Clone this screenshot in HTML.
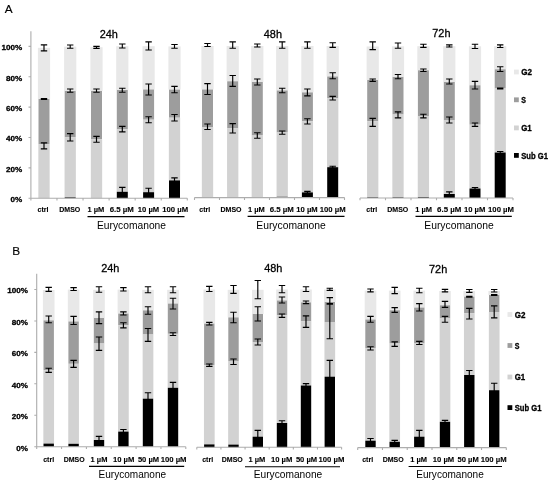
<!DOCTYPE html>
<html lang="en">
<head>
<meta charset="utf-8">
<title>Cell cycle distribution – Eurycomanone</title>
<style>
html,body{margin:0;padding:0;background:#fff;}
body{width:550px;height:484px;overflow:hidden;}
svg{display:block;font-family:"Liberation Sans",sans-serif;fill:#000;}
.ax{fill:none;stroke:#adadad;stroke-width:1.1;}
.eb{fill:none;stroke:#000;stroke-width:1.15;}
.ul{fill:none;stroke:#000;stroke-width:1.1;}
.yl{font-size:8.1px;font-weight:bold;text-anchor:end;stroke:#000;stroke-width:.3;}
.xl{font-size:7.3px;font-weight:bold;stroke:#000;stroke-width:.1;}
.ti{font-size:11.5px;stroke:#000;stroke-width:.3;}
.eu{font-size:10.5px;}
.lg{font-size:8.3px;font-weight:bold;stroke:#000;stroke-width:.3;}
.pn{font-size:11.8px;stroke:#000;stroke-width:.15;}
</style>
</head>
<body>
<svg width="550" height="484" viewBox="0 0 550 484">
<rect width="550" height="484" fill="#fff"/>
<g class="chart" id="A24">
<rect x="37.9" y="47.8" width="12.2" height="51.2" fill="#e8e8e8"/>
<rect x="38.5" y="99" width="11" height="45.4" fill="#9d9d9d"/>
<rect x="38.35" y="144.4" width="11.3" height="53.8" fill="#d2d2d2"/>
<rect x="64.1" y="46.6" width="12.2" height="44.4" fill="#e8e8e8"/>
<rect x="64.7" y="91" width="11" height="46.3" fill="#9d9d9d"/>
<rect x="64.55" y="137.3" width="11.3" height="60.1" fill="#d2d2d2"/>
<rect x="64.7" y="197.4" width="11" height="0.8" fill="#000"/>
<rect x="90.4" y="47.2" width="12.2" height="43.8" fill="#e8e8e8"/>
<rect x="91" y="91" width="11" height="48.3" fill="#9d9d9d"/>
<rect x="90.85" y="139.3" width="11.3" height="58.9" fill="#d2d2d2"/>
<rect x="116.2" y="46.2" width="12.2" height="43.8" fill="#e8e8e8"/>
<rect x="116.8" y="90" width="11" height="39.1" fill="#9d9d9d"/>
<rect x="116.65" y="129.1" width="11.3" height="62.7" fill="#d2d2d2"/>
<rect x="116.8" y="191.8" width="11" height="6.4" fill="#000"/>
<rect x="142.5" y="46.2" width="12.2" height="43.3" fill="#e8e8e8"/>
<rect x="143.1" y="89.5" width="11" height="30.2" fill="#9d9d9d"/>
<rect x="142.95" y="119.7" width="11.3" height="72.5" fill="#d2d2d2"/>
<rect x="143.1" y="192.2" width="11" height="6" fill="#000"/>
<rect x="168.4" y="46.4" width="12.2" height="43.2" fill="#e8e8e8"/>
<rect x="169" y="89.6" width="11" height="28.1" fill="#9d9d9d"/>
<rect x="168.85" y="117.7" width="11.3" height="62.7" fill="#d2d2d2"/>
<rect x="169" y="180.4" width="11" height="17.8" fill="#000"/>
<text class="yl" x="22.1" y="202">0%</text>
<text class="yl" x="22.1" y="171.64">20%</text>
<text class="yl" x="22.1" y="141.28">40%</text>
<text class="yl" x="22.1" y="110.92">60%</text>
<text class="yl" x="22.1" y="80.56">80%</text>
<text class="yl" x="22.1" y="50.2">100%</text>
<path d="M30.9 198.2H187.3M30.9 198.2v2.3M56.97 198.2v2.3M83.03 198.2v2.3M109.1 198.2v2.3M135.17 198.2v2.3M161.23 198.2v2.3M187.3 198.2v2.3M30.9 198.7V31.22M30.9 198.2h-2.4M30.9 167.84h-2.4M30.9 137.48h-2.4M30.9 107.12h-2.4M30.9 76.76h-2.4M30.9 46.4h-2.4" class="ax"/>
<path d="M40.8 44.8h6.4M44 44.8V50.8M40.8 50.8h6.4M40.8 98.6h6.4M44 98.6V99.4M40.8 99.4h6.4M40.8 142.9h6.4M44 142.9V148.8M40.8 148.8h6.4M67 45h6.4M70.2 45V48.2M67 48.2h6.4M67 89h6.4M70.2 89V92.2M67 92.2h6.4M67 133.6h6.4M70.2 133.6V141M67 141h6.4M93.3 46.3h6.4M96.5 46.3V48.3M93.3 48.3h6.4M93.3 89h6.4M96.5 89V92.2M93.3 92.2h6.4M93.3 136.4h6.4M96.5 136.4V142.2M93.3 142.2h6.4M119.1 44h6.4M122.3 44V48M119.1 48h6.4M119.1 88.2h6.4M122.3 88.2V92.2M119.1 92.2h6.4M119.1 126.4h6.4M122.3 126.4V131.8M119.1 131.8h6.4M119.1 187.3h6.4M122.3 187.3V194M119.1 194h6.4M145.4 41.8h6.4M148.6 41.8V50M145.4 50h6.4M145.4 84h6.4M148.6 84V95M145.4 95h6.4M145.4 116.7h6.4M148.6 116.7V122.7M145.4 122.7h6.4M145.4 188.2h6.4M148.6 188.2V194M145.4 194h6.4M171.3 44.5h6.4M174.5 44.5V48.2M171.3 48.2h6.4M171.3 86.4h6.4M174.5 86.4V92.7M171.3 92.7h6.4M171.3 114.5h6.4M174.5 114.5V121M171.3 121h6.4M171.3 177.8h6.4M174.5 177.8V183M171.3 183h6.4" class="eb"/>
<text class="ti" x="99.7" y="37.5" textLength="18.2" lengthAdjust="spacingAndGlyphs">24h</text>
<text class="xl" x="37.5" y="211.8" textLength="11" lengthAdjust="spacingAndGlyphs">ctrl</text>
<text class="xl" x="59.3" y="211.8" textLength="21" lengthAdjust="spacingAndGlyphs">DMSO</text>
<text class="xl" x="87.4" y="211.8" textLength="16.8" lengthAdjust="spacingAndGlyphs">1 µM</text>
<text class="xl" x="109.7" y="211.8" textLength="24.2" lengthAdjust="spacingAndGlyphs">6.5 µM</text>
<text class="xl" x="137.8" y="211.8" textLength="21.4" lengthAdjust="spacingAndGlyphs">10 µM</text>
<text class="xl" x="162.25" y="211.8" textLength="25.9" lengthAdjust="spacingAndGlyphs">100 µM</text>
<path d="M87.5 216.6H184.5" class="ul"/>
<text class="eu" x="97" y="228.8" textLength="69" lengthAdjust="spacingAndGlyphs">Eurycomanone</text>
</g>
<g class="chart" id="A48">
<rect x="201.4" y="46" width="12.2" height="43.5" fill="#e8e8e8"/>
<rect x="202" y="89.5" width="11" height="37.5" fill="#9d9d9d"/>
<rect x="201.85" y="127" width="11.3" height="70.2" fill="#d2d2d2"/>
<rect x="202" y="197.2" width="11" height="0.4" fill="#000"/>
<rect x="226.6" y="46" width="12.2" height="35.3" fill="#e8e8e8"/>
<rect x="227.2" y="81.3" width="11" height="47.1" fill="#9d9d9d"/>
<rect x="227.05" y="128.4" width="11.3" height="68.8" fill="#d2d2d2"/>
<rect x="227.2" y="197.2" width="11" height="0.4" fill="#000"/>
<rect x="251.2" y="46" width="12.2" height="36" fill="#e8e8e8"/>
<rect x="251.8" y="82" width="11" height="53.5" fill="#9d9d9d"/>
<rect x="251.65" y="135.5" width="11.3" height="61.7" fill="#d2d2d2"/>
<rect x="251.8" y="197.2" width="11" height="0.4" fill="#000"/>
<rect x="276.1" y="46" width="12.2" height="44.5" fill="#e8e8e8"/>
<rect x="276.7" y="90.5" width="11" height="42" fill="#9d9d9d"/>
<rect x="276.55" y="132.5" width="11.3" height="64.3" fill="#d2d2d2"/>
<rect x="276.7" y="196.8" width="11" height="0.8" fill="#000"/>
<rect x="301.3" y="46" width="12.2" height="46.4" fill="#e8e8e8"/>
<rect x="301.9" y="92.4" width="11" height="29" fill="#9d9d9d"/>
<rect x="301.75" y="121.4" width="11.3" height="71" fill="#d2d2d2"/>
<rect x="301.9" y="192.4" width="11" height="5.2" fill="#000"/>
<rect x="326.6" y="46" width="12.2" height="30.5" fill="#e8e8e8"/>
<rect x="327.2" y="76.5" width="11" height="21.7" fill="#9d9d9d"/>
<rect x="327.05" y="98.2" width="11.3" height="69" fill="#d2d2d2"/>
<rect x="327.2" y="167.2" width="11" height="30.4" fill="#000"/>
<path d="M194.5 197.6H344.5M194.5 197.6v2.3M219.5 197.6v2.3M244.5 197.6v2.3M269.5 197.6v2.3M294.5 197.6v2.3M319.5 197.6v2.3M344.5 197.6v2.3" class="ax"/>
<path d="M204.3 43.5h6.4M207.5 43.5V46.5M204.3 46.5h6.4M204.3 83.6h6.4M207.5 83.6V94.5M204.3 94.5h6.4M204.3 124h6.4M207.5 124V129.5M204.3 129.5h6.4M229.5 41.8h6.4M232.7 41.8V48.2M229.5 48.2h6.4M229.5 75.5h6.4M232.7 75.5V86.4M229.5 86.4h6.4M229.5 123.6h6.4M232.7 123.6V133M229.5 133h6.4M254.1 44h6.4M257.3 44V47M254.1 47h6.4M254.1 79h6.4M257.3 79V85M254.1 85h6.4M254.1 132.7h6.4M257.3 132.7V138.2M254.1 138.2h6.4M279 41.8h6.4M282.2 41.8V48.2M279 48.2h6.4M279 88.2h6.4M282.2 88.2V92.7M279 92.7h6.4M279 131h6.4M282.2 131V134.2M279 134.2h6.4M304.2 41.8h6.4M307.4 41.8V48.2M304.2 48.2h6.4M304.2 89h6.4M307.4 89V95.8M304.2 95.8h6.4M304.2 118.7h6.4M307.4 118.7V124M304.2 124h6.4M304.2 191.4h6.4M307.4 191.4V193.4M304.2 193.4h6.4M329.5 42.7h6.4M332.7 42.7V47.3M329.5 47.3h6.4M329.5 72.7h6.4M332.7 72.7V78.7M329.5 78.7h6.4M329.5 96.4h6.4M332.7 96.4V100M329.5 100h6.4M329.5 166.2h6.4M332.7 166.2V168.2M329.5 168.2h6.4" class="eb"/>
<text class="ti" x="263.8" y="37.5" textLength="18.2" lengthAdjust="spacingAndGlyphs">48h</text>
<text class="xl" x="199.3" y="211.8" textLength="11" lengthAdjust="spacingAndGlyphs">ctrl</text>
<text class="xl" x="220.5" y="211.8" textLength="21" lengthAdjust="spacingAndGlyphs">DMSO</text>
<text class="xl" x="248" y="211.8" textLength="16.8" lengthAdjust="spacingAndGlyphs">1 µM</text>
<text class="xl" x="269.7" y="211.8" textLength="24.2" lengthAdjust="spacingAndGlyphs">6.5 µM</text>
<text class="xl" x="296.3" y="211.8" textLength="21.4" lengthAdjust="spacingAndGlyphs">10 µM</text>
<text class="xl" x="319.75" y="211.8" textLength="25.9" lengthAdjust="spacingAndGlyphs">100 µM</text>
<path d="M247.6 216.4H344.5" class="ul"/>
<text class="eu" x="256.25" y="228.5" textLength="69.5" lengthAdjust="spacingAndGlyphs">Eurycomanone</text>
</g>
<g class="chart" id="A72">
<rect x="366.6" y="46.5" width="12.2" height="33.5" fill="#e8e8e8"/>
<rect x="367.2" y="80" width="11" height="41.2" fill="#9d9d9d"/>
<rect x="367.05" y="121.2" width="11.3" height="76.2" fill="#d2d2d2"/>
<rect x="367.2" y="197.4" width="11" height="0.6" fill="#000"/>
<rect x="391.9" y="46.3" width="12.2" height="30.7" fill="#e8e8e8"/>
<rect x="392.5" y="77" width="11" height="37.5" fill="#9d9d9d"/>
<rect x="392.35" y="114.5" width="11.3" height="82.9" fill="#d2d2d2"/>
<rect x="392.5" y="197.4" width="11" height="0.6" fill="#000"/>
<rect x="417.3" y="46.2" width="12.2" height="24.1" fill="#e8e8e8"/>
<rect x="417.9" y="70.3" width="11" height="45.7" fill="#9d9d9d"/>
<rect x="417.75" y="116" width="11.3" height="81.2" fill="#d2d2d2"/>
<rect x="417.9" y="197.2" width="11" height="0.8" fill="#000"/>
<rect x="443.2" y="46.2" width="12.2" height="35.8" fill="#e8e8e8"/>
<rect x="443.8" y="82" width="11" height="38" fill="#9d9d9d"/>
<rect x="443.65" y="120" width="11.3" height="74" fill="#d2d2d2"/>
<rect x="443.8" y="194" width="11" height="4" fill="#000"/>
<rect x="468.9" y="46.3" width="12.2" height="39" fill="#e8e8e8"/>
<rect x="469.5" y="85.3" width="11" height="39.4" fill="#9d9d9d"/>
<rect x="469.35" y="124.7" width="11.3" height="63.8" fill="#d2d2d2"/>
<rect x="469.5" y="188.5" width="11" height="9.5" fill="#000"/>
<rect x="494.1" y="46.2" width="12.2" height="23.1" fill="#e8e8e8"/>
<rect x="494.7" y="69.3" width="11" height="19.2" fill="#9d9d9d"/>
<rect x="494.55" y="88.5" width="11.3" height="64" fill="#d2d2d2"/>
<rect x="494.7" y="152.5" width="11" height="45.5" fill="#000"/>
<path d="M360 198H513M360 198v2.3M385.5 198v2.3M411 198v2.3M436.5 198v2.3M462 198v2.3M487.5 198v2.3M513 198v2.3" class="ax"/>
<path d="M369.5 41.8h6.4M372.7 41.8V49.6M369.5 49.6h6.4M369.5 79h6.4M372.7 79V81.3M369.5 81.3h6.4M369.5 118.4h6.4M372.7 118.4V126.4M369.5 126.4h6.4M394.8 43h6.4M398 43V48.2M394.8 48.2h6.4M394.8 74.5h6.4M398 74.5V78.7M394.8 78.7h6.4M394.8 111.8h6.4M398 111.8V117.8M394.8 117.8h6.4M420.2 44.2h6.4M423.4 44.2V47.3M420.2 47.3h6.4M420.2 69h6.4M423.4 69V71.5M420.2 71.5h6.4M420.2 114.2h6.4M423.4 114.2V117.8M420.2 117.8h6.4M446.1 44.9h6.4M449.3 44.9V47M446.1 47h6.4M446.1 79h6.4M449.3 79V84M446.1 84h6.4M446.1 117h6.4M449.3 117V123M446.1 123h6.4M446.1 191.8h6.4M449.3 191.8V196M446.1 196h6.4M471.8 44.2h6.4M475 44.2V48.5M471.8 48.5h6.4M471.8 81.3h6.4M475 81.3V89M471.8 89h6.4M471.8 123h6.4M475 123V126.4M471.8 126.4h6.4M471.8 187.5h6.4M475 187.5V189.5M471.8 189.5h6.4M497 44.8h6.4M500.2 44.8V47.5M497 47.5h6.4M497 66.7h6.4M500.2 66.7V71.5M497 71.5h6.4M497 88h6.4M500.2 88V89M497 89h6.4M497 151.5h6.4M500.2 151.5V153.5M497 153.5h6.4" class="eb"/>
<text class="ti" x="432.3" y="37.3" textLength="18.2" lengthAdjust="spacingAndGlyphs">72h</text>
<text class="xl" x="366.3" y="211.8" textLength="11" lengthAdjust="spacingAndGlyphs">ctrl</text>
<text class="xl" x="387.3" y="211.8" textLength="21" lengthAdjust="spacingAndGlyphs">DMSO</text>
<text class="xl" x="415.2" y="211.8" textLength="16.8" lengthAdjust="spacingAndGlyphs">1 µM</text>
<text class="xl" x="437.1" y="211.8" textLength="24.2" lengthAdjust="spacingAndGlyphs">6.5 µM</text>
<text class="xl" x="464" y="211.8" textLength="21.4" lengthAdjust="spacingAndGlyphs">10 µM</text>
<text class="xl" x="488.05" y="211.8" textLength="25.9" lengthAdjust="spacingAndGlyphs">100 µM</text>
<path d="M415.5 216.4H511.8" class="ul"/>
<text class="eu" x="424.25" y="228.5" textLength="69.5" lengthAdjust="spacingAndGlyphs">Eurycomanone</text>
</g>
<g class="chart" id="B24">
<rect x="42.9" y="290" width="11.6" height="30.4" fill="#e8e8e8"/>
<rect x="43.5" y="320.4" width="10.4" height="49.9" fill="#9d9d9d"/>
<rect x="43.35" y="370.3" width="10.7" height="73.3" fill="#d2d2d2"/>
<rect x="43.5" y="443.6" width="10.4" height="3.1" fill="#000"/>
<rect x="67.8" y="289.6" width="11.6" height="31.9" fill="#e8e8e8"/>
<rect x="68.4" y="321.5" width="10.4" height="42.3" fill="#9d9d9d"/>
<rect x="68.25" y="363.8" width="10.7" height="80" fill="#d2d2d2"/>
<rect x="68.4" y="443.8" width="10.4" height="2.9" fill="#000"/>
<rect x="93.2" y="289.8" width="11.6" height="28.2" fill="#e8e8e8"/>
<rect x="93.8" y="318" width="10.4" height="25.5" fill="#9d9d9d"/>
<rect x="93.65" y="343.5" width="10.7" height="96.5" fill="#d2d2d2"/>
<rect x="93.8" y="440" width="10.4" height="6.7" fill="#000"/>
<rect x="117.6" y="289.6" width="11.6" height="24" fill="#e8e8e8"/>
<rect x="118.2" y="313.6" width="10.4" height="11.8" fill="#9d9d9d"/>
<rect x="118.05" y="325.4" width="10.7" height="106.2" fill="#d2d2d2"/>
<rect x="118.2" y="431.6" width="10.4" height="15.1" fill="#000"/>
<rect x="142.2" y="289.8" width="11.6" height="20.6" fill="#e8e8e8"/>
<rect x="142.8" y="310.4" width="10.4" height="24.1" fill="#9d9d9d"/>
<rect x="142.65" y="334.5" width="10.7" height="64.2" fill="#d2d2d2"/>
<rect x="142.8" y="398.7" width="10.4" height="48" fill="#000"/>
<rect x="167.2" y="289.8" width="11.6" height="13.8" fill="#e8e8e8"/>
<rect x="167.8" y="303.6" width="10.4" height="30.2" fill="#9d9d9d"/>
<rect x="167.65" y="333.8" width="10.7" height="54" fill="#d2d2d2"/>
<rect x="167.8" y="387.8" width="10.4" height="58.9" fill="#000"/>
<text class="yl" x="27.9" y="450.5">0%</text>
<text class="yl" x="27.9" y="419.06">20%</text>
<text class="yl" x="27.9" y="387.62">40%</text>
<text class="yl" x="27.9" y="356.18">60%</text>
<text class="yl" x="27.9" y="324.74">80%</text>
<text class="yl" x="27.9" y="293.3">100%</text>
<path d="M36.7 446.7H185.8M36.7 446.7v2.3M61.55 446.7v2.3M86.4 446.7v2.3M111.25 446.7v2.3M136.1 446.7v2.3M160.95 446.7v2.3M185.8 446.7v2.3M36.7 447.2V273.78M36.7 446.7h-2.4M36.7 415.26h-2.4M36.7 383.82h-2.4M36.7 352.38h-2.4M36.7 320.94h-2.4M36.7 289.5h-2.4" class="ax"/>
<path d="M45.5 287.3h6.4M48.7 287.3V291.3M45.5 291.3h6.4M45.5 316h6.4M48.7 316V322.7M45.5 322.7h6.4M45.5 368.2h6.4M48.7 368.2V372.4M45.5 372.4h6.4M70.4 287.6h6.4M73.6 287.6V290.5M70.4 290.5h6.4M70.4 316.4h6.4M73.6 316.4V324.5M70.4 324.5h6.4M70.4 360.4h6.4M73.6 360.4V367.3M70.4 367.3h6.4M95.8 286.7h6.4M99 286.7V292.2M95.8 292.2h6.4M95.8 311.8h6.4M99 311.8V323.6M95.8 323.6h6.4M95.8 337h6.4M99 337V350.4M95.8 350.4h6.4M95.8 436.4h6.4M99 436.4V442M95.8 442h6.4M120.2 287.6h6.4M123.4 287.6V291M120.2 291h6.4M120.2 311.8h6.4M123.4 311.8V315M120.2 315h6.4M120.2 322.7h6.4M123.4 322.7V327.8M120.2 327.8h6.4M120.2 429.5h6.4M123.4 429.5V433M120.2 433h6.4M144.8 286.7h6.4M148 286.7V292.7M144.8 292.7h6.4M144.8 306.7h6.4M148 306.7V314.2M144.8 314.2h6.4M144.8 328.5h6.4M148 328.5V341.3M144.8 341.3h6.4M144.8 392.7h6.4M148 392.7V402M144.8 402h6.4M169.8 286.7h6.4M173 286.7V292.7M169.8 292.7h6.4M169.8 298.2h6.4M173 298.2V309M169.8 309h6.4M169.8 332.7h6.4M173 332.7V335.5M169.8 335.5h6.4M169.8 382.4h6.4M173 382.4V392M169.8 392h6.4" class="eb"/>
<text class="ti" x="101.2" y="271.9" textLength="18.2" lengthAdjust="spacingAndGlyphs">24h</text>
<text class="xl" x="43.2" y="461.8" textLength="11" lengthAdjust="spacingAndGlyphs">ctrl</text>
<text class="xl" x="63.7" y="461.8" textLength="21" lengthAdjust="spacingAndGlyphs">DMSO</text>
<text class="xl" x="90.6" y="461.8" textLength="16.8" lengthAdjust="spacingAndGlyphs">1 µM</text>
<text class="xl" x="112.9" y="461.8" textLength="21.4" lengthAdjust="spacingAndGlyphs">10 µM</text>
<text class="xl" x="137.9" y="461.8" textLength="21.2" lengthAdjust="spacingAndGlyphs">50 µM</text>
<text class="xl" x="160.65" y="461.8" textLength="25.9" lengthAdjust="spacingAndGlyphs">100 µM</text>
<path d="M89 466.4H184.2" class="ul"/>
<text class="eu" x="98.55" y="478" textLength="67.5" lengthAdjust="spacingAndGlyphs">Eurycomanone</text>
</g>
<g class="chart" id="B48">
<rect x="203.5" y="289.5" width="11.6" height="34.1" fill="#e8e8e8"/>
<rect x="204.1" y="323.6" width="10.4" height="41.6" fill="#9d9d9d"/>
<rect x="203.95" y="365.2" width="10.7" height="79.2" fill="#d2d2d2"/>
<rect x="204.1" y="444.4" width="10.4" height="2.9" fill="#000"/>
<rect x="227.7" y="289.8" width="11.6" height="27.6" fill="#e8e8e8"/>
<rect x="228.3" y="317.4" width="10.4" height="44.1" fill="#9d9d9d"/>
<rect x="228.15" y="361.5" width="10.7" height="83.1" fill="#d2d2d2"/>
<rect x="228.3" y="444.6" width="10.4" height="2.7" fill="#000"/>
<rect x="252" y="289.8" width="11.6" height="24.2" fill="#e8e8e8"/>
<rect x="252.6" y="314" width="10.4" height="28" fill="#9d9d9d"/>
<rect x="252.45" y="342" width="10.7" height="94.7" fill="#d2d2d2"/>
<rect x="252.6" y="436.7" width="10.4" height="10.6" fill="#000"/>
<rect x="276.2" y="289.5" width="11.6" height="11" fill="#e8e8e8"/>
<rect x="276.8" y="300.5" width="10.4" height="14.8" fill="#9d9d9d"/>
<rect x="276.65" y="315.3" width="10.7" height="107.7" fill="#d2d2d2"/>
<rect x="276.8" y="423" width="10.4" height="24.3" fill="#000"/>
<rect x="300.2" y="289.5" width="11.6" height="12.9" fill="#e8e8e8"/>
<rect x="300.8" y="302.4" width="10.4" height="19" fill="#9d9d9d"/>
<rect x="300.65" y="321.4" width="10.7" height="64.1" fill="#d2d2d2"/>
<rect x="300.8" y="385.5" width="10.4" height="61.8" fill="#000"/>
<rect x="324" y="289.5" width="11.6" height="12.5" fill="#e8e8e8"/>
<rect x="324.6" y="302" width="10.4" height="20" fill="#9d9d9d"/>
<rect x="324.45" y="322" width="10.7" height="54.7" fill="#d2d2d2"/>
<rect x="324.6" y="376.7" width="10.4" height="70.6" fill="#000"/>
<path d="M196.8 447.3H341.6M196.8 447.3v2.3M220.93 447.3v2.3M245.07 447.3v2.3M269.2 447.3v2.3M293.33 447.3v2.3M317.47 447.3v2.3M341.6 447.3v2.3" class="ax"/>
<path d="M206.1 286.4h6.4M209.3 286.4V291.5M206.1 291.5h6.4M206.1 322.4h6.4M209.3 322.4V325M206.1 325h6.4M206.1 364h6.4M209.3 364V366.4M206.1 366.4h6.4M230.3 285.5h6.4M233.5 285.5V293.3M230.3 293.3h6.4M230.3 312.2h6.4M233.5 312.2V322.7M230.3 322.7h6.4M230.3 359h6.4M233.5 359V364.5M230.3 364.5h6.4M254.6 280.5h6.4M257.8 280.5V298.7M254.6 298.7h6.4M254.6 306.7h6.4M257.8 306.7V321M254.6 321h6.4M254.6 339h6.4M257.8 339V345M254.6 345h6.4M254.6 430.4h6.4M257.8 430.4V440M254.6 440h6.4M278.8 285.5h6.4M282 285.5V292.7M278.8 292.7h6.4M278.8 297h6.4M282 297V303M278.8 303h6.4M278.8 314h6.4M282 314V317.3M278.8 317.3h6.4M278.8 420.7h6.4M282 420.7V425M278.8 425h6.4M302.8 286.7h6.4M306 286.7V291.5M302.8 291.5h6.4M302.8 301h6.4M306 301V303.6M302.8 303.6h6.4M302.8 315.8h6.4M306 315.8V327.3M302.8 327.3h6.4M302.8 383.6h6.4M306 383.6V387M302.8 387h6.4M326.6 288.2h6.4M329.8 288.2V290.4M326.6 290.4h6.4M326.6 297.6h6.4M329.8 297.6V304.2M326.6 304.2h6.4M326.6 303.6h6.4M329.8 303.6V338.7M326.6 338.7h6.4M326.6 360.4h6.4M329.8 360.4V390M326.6 390h6.4" class="eb"/>
<text class="ti" x="264.2" y="272.4" textLength="18.2" lengthAdjust="spacingAndGlyphs">48h</text>
<text class="xl" x="202.2" y="461.8" textLength="11" lengthAdjust="spacingAndGlyphs">ctrl</text>
<text class="xl" x="221.8" y="461.8" textLength="21" lengthAdjust="spacingAndGlyphs">DMSO</text>
<text class="xl" x="248.4" y="461.8" textLength="16.8" lengthAdjust="spacingAndGlyphs">1 µM</text>
<text class="xl" x="271" y="461.8" textLength="21.4" lengthAdjust="spacingAndGlyphs">10 µM</text>
<text class="xl" x="295.9" y="461.8" textLength="21.2" lengthAdjust="spacingAndGlyphs">50 µM</text>
<text class="xl" x="318.45" y="461.8" textLength="25.9" lengthAdjust="spacingAndGlyphs">100 µM</text>
<path d="M245 466.7H340" class="ul"/>
<text class="eu" x="253.75" y="478" textLength="68.5" lengthAdjust="spacingAndGlyphs">Eurycomanone</text>
</g>
<g class="chart" id="B72">
<rect x="364.7" y="290.6" width="11.6" height="28.9" fill="#e8e8e8"/>
<rect x="365.3" y="319.5" width="10.4" height="28.9" fill="#9d9d9d"/>
<rect x="365.15" y="348.4" width="10.7" height="92.3" fill="#d2d2d2"/>
<rect x="365.3" y="440.7" width="10.4" height="6.9" fill="#000"/>
<rect x="388.9" y="290.6" width="11.6" height="19.7" fill="#e8e8e8"/>
<rect x="389.5" y="310.3" width="10.4" height="33.2" fill="#9d9d9d"/>
<rect x="389.35" y="343.5" width="10.7" height="98.3" fill="#d2d2d2"/>
<rect x="389.5" y="441.8" width="10.4" height="5.8" fill="#000"/>
<rect x="413.5" y="290.6" width="11.6" height="17" fill="#e8e8e8"/>
<rect x="414.1" y="307.6" width="10.4" height="35.4" fill="#9d9d9d"/>
<rect x="413.95" y="343" width="10.7" height="93.7" fill="#d2d2d2"/>
<rect x="414.1" y="436.7" width="10.4" height="10.9" fill="#000"/>
<rect x="439.2" y="291" width="11.6" height="14.3" fill="#e8e8e8"/>
<rect x="439.8" y="305.3" width="10.4" height="12.7" fill="#9d9d9d"/>
<rect x="439.65" y="318" width="10.7" height="103.8" fill="#d2d2d2"/>
<rect x="439.8" y="421.8" width="10.4" height="25.8" fill="#000"/>
<rect x="463.5" y="291" width="11.6" height="5.7" fill="#e8e8e8"/>
<rect x="464.1" y="296.7" width="10.4" height="16.5" fill="#9d9d9d"/>
<rect x="463.95" y="313.2" width="10.7" height="61.8" fill="#d2d2d2"/>
<rect x="464.1" y="375" width="10.4" height="72.6" fill="#000"/>
<rect x="488.4" y="291" width="11.6" height="4" fill="#e8e8e8"/>
<rect x="489" y="295" width="10.4" height="17" fill="#9d9d9d"/>
<rect x="488.85" y="312" width="10.7" height="78.2" fill="#d2d2d2"/>
<rect x="489" y="390.2" width="10.4" height="57.4" fill="#000"/>
<path d="M357.7 447.6H506.3M357.7 447.6v2.3M382.47 447.6v2.3M407.23 447.6v2.3M432 447.6v2.3M456.77 447.6v2.3M481.53 447.6v2.3M506.3 447.6v2.3" class="ax"/>
<path d="M367.3 289h6.4M370.5 289V291.8M367.3 291.8h6.4M367.3 316.4h6.4M370.5 316.4V322.2M367.3 322.2h6.4M367.3 346.7h6.4M370.5 346.7V350M367.3 350h6.4M367.3 438.5h6.4M370.5 438.5V443M367.3 443h6.4M391.5 287.3h6.4M394.7 287.3V293.6M391.5 293.6h6.4M391.5 307.6h6.4M394.7 307.6V312.4M391.5 312.4h6.4M391.5 341.8h6.4M394.7 341.8V346.4M391.5 346.4h6.4M391.5 440.4h6.4M394.7 440.4V443M391.5 443h6.4M416.1 288.2h6.4M419.3 288.2V292.7M416.1 292.7h6.4M416.1 303.6h6.4M419.3 303.6V311M416.1 311h6.4M416.1 341.3h6.4M419.3 341.3V344.5M416.1 344.5h6.4M416.1 430.4h6.4M419.3 430.4V440M416.1 440h6.4M441.8 289.4h6.4M445 289.4V291.8M441.8 291.8h6.4M441.8 301.4h6.4M445 301.4V307.4M441.8 307.4h6.4M441.8 316.3h6.4M445 316.3V322.2M441.8 322.2h6.4M441.8 420.3h6.4M445 420.3V423M441.8 423h6.4M466.1 289.5h6.4M469.3 289.5V292.3M466.1 292.3h6.4M466.1 296.2h6.4M469.3 296.2V297.2M466.1 297.2h6.4M466.1 308.4h6.4M469.3 308.4V319M466.1 319h6.4M466.1 370.5h6.4M469.3 370.5V379M466.1 379h6.4M491 289.5h6.4M494.2 289.5V292M491 292h6.4M491 294.5h6.4M494.2 294.5V295.5M491 295.5h6.4M491 305.8h6.4M494.2 305.8V317.8M491 317.8h6.4M491 383.2h6.4M494.2 383.2V396M491 396h6.4" class="eb"/>
<text class="ti" x="429" y="272.6" textLength="18.2" lengthAdjust="spacingAndGlyphs">72h</text>
<text class="xl" x="362.2" y="461.8" textLength="11" lengthAdjust="spacingAndGlyphs">ctrl</text>
<text class="xl" x="382.7" y="461.8" textLength="21" lengthAdjust="spacingAndGlyphs">DMSO</text>
<text class="xl" x="410.2" y="461.8" textLength="16.8" lengthAdjust="spacingAndGlyphs">1 µM</text>
<text class="xl" x="432.8" y="461.8" textLength="21.4" lengthAdjust="spacingAndGlyphs">10 µM</text>
<text class="xl" x="457.6" y="461.8" textLength="21.2" lengthAdjust="spacingAndGlyphs">50 µM</text>
<text class="xl" x="480.75" y="461.8" textLength="25.9" lengthAdjust="spacingAndGlyphs">100 µM</text>
<path d="M408.6 466.5H502" class="ul"/>
<text class="eu" x="416.25" y="478" textLength="67.5" lengthAdjust="spacingAndGlyphs">Eurycomanone</text>
</g>
<g id="legA">
<rect x="514" y="69.6" width="4.8" height="4.8" fill="#e8e8e8"/>
<text class="lg" x="521.2" y="75.2" textLength="10.7" lengthAdjust="spacingAndGlyphs">G2</text>
<rect x="514" y="97.4" width="4.8" height="4.8" fill="#9d9d9d"/>
<text class="lg" x="521.2" y="103" textLength="4.7" lengthAdjust="spacingAndGlyphs">S</text>
<rect x="514" y="125.5" width="4.8" height="4.8" fill="#d2d2d2"/>
<text class="lg" x="521.2" y="131.1" textLength="10.5" lengthAdjust="spacingAndGlyphs">G1</text>
<rect x="514" y="153" width="4.8" height="4.8" fill="#000"/>
<text class="lg" x="521.2" y="158.6" textLength="26.7" lengthAdjust="spacingAndGlyphs">Sub G1</text>
</g>
<g id="legB">
<rect x="507.5" y="312.1" width="4.8" height="4.8" fill="#e8e8e8"/>
<text class="lg" x="514.7" y="317.7" textLength="10.7" lengthAdjust="spacingAndGlyphs">G2</text>
<rect x="507.5" y="343.1" width="4.8" height="4.8" fill="#9d9d9d"/>
<text class="lg" x="514.7" y="348.7" textLength="4.7" lengthAdjust="spacingAndGlyphs">S</text>
<rect x="507.5" y="374.6" width="4.8" height="4.8" fill="#d2d2d2"/>
<text class="lg" x="514.7" y="380.2" textLength="10.5" lengthAdjust="spacingAndGlyphs">G1</text>
<rect x="507.5" y="405.2" width="4.8" height="4.8" fill="#000"/>
<text class="lg" x="514.7" y="410.8" textLength="26.7" lengthAdjust="spacingAndGlyphs">Sub G1</text>
</g>
<text class="pn" x="4.8" y="12.9">A</text>
<text class="pn" x="12.3" y="254.7">B</text>
</svg>
</body>
</html>
